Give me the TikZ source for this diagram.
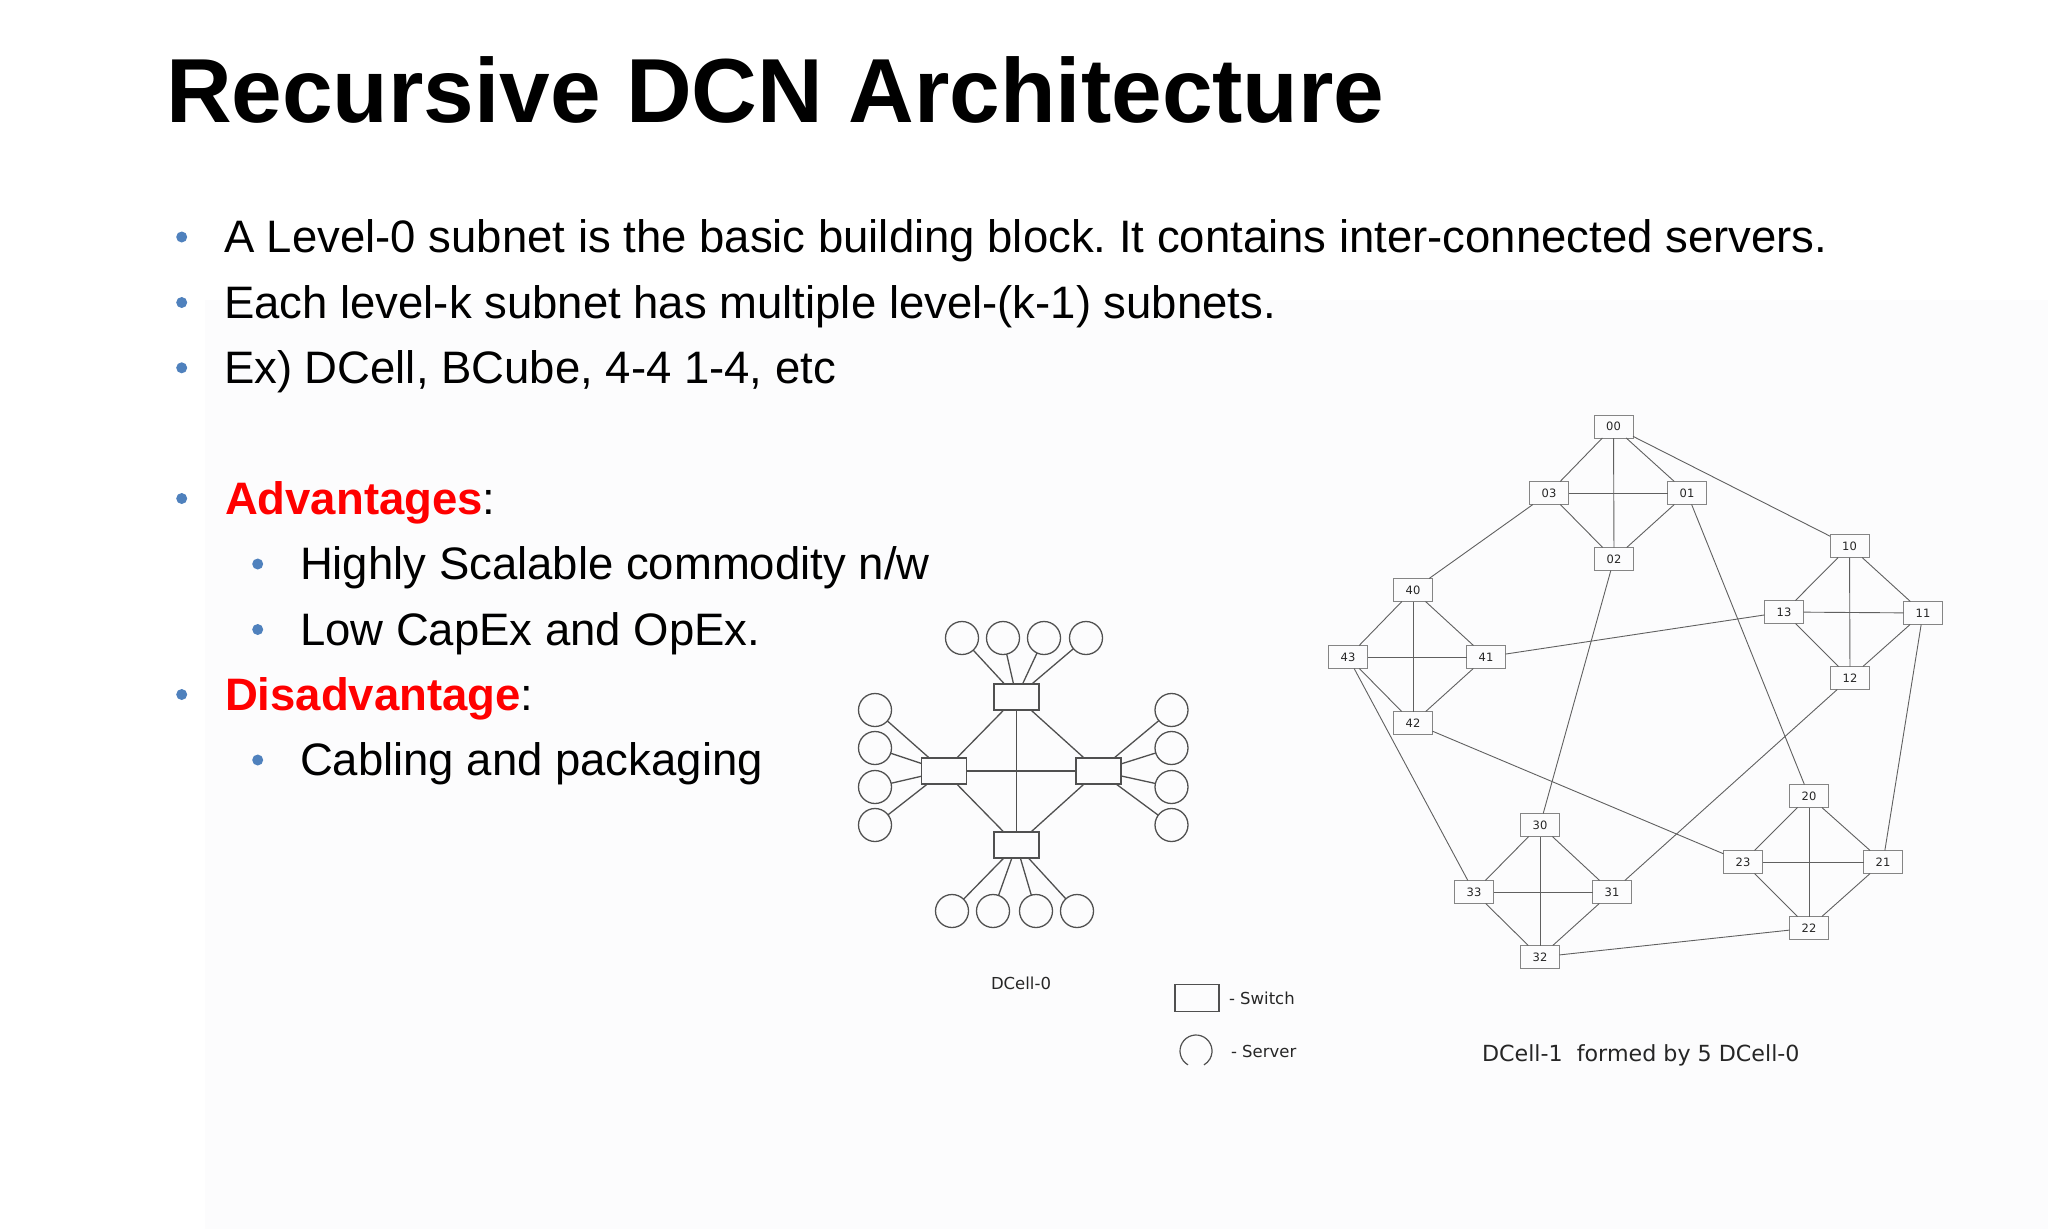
\documentclass[tikz,border=0pt]{standalone}
\usepackage{fontspec}
\setmainfont{Liberation Sans}
\newfontfamily\djv{DejaVu Sans}
\definecolor{bul}{HTML}{4F81BD}
\definecolor{netA}{HTML}{505050}
\definecolor{netB}{HTML}{606060}
\definecolor{boxB}{HTML}{858585}
\definecolor{bgshade}{RGB}{252,252,253}
\frenchspacing
\begin{document}
\begin{tikzpicture}[x=1pt,y=-1pt,
  every node/.style={inner sep=0pt, outer sep=0pt},
  bigsw/.style={draw=netA, line width=1.3pt, minimum width=45pt, minimum height=26pt},
  srv/.style={circle, draw=netA, line width=1.3pt, minimum size=33pt},
  linkA/.style={draw=netA, line width=1.3pt},
  sw/.style={draw=boxB, line width=1pt, minimum width=39pt, minimum height=23pt,
    font=\djv\fontsize{11.5}{12}\selectfont, text=black!85},
  linkB/.style={draw=netB, line width=0.9pt},
  txt/.style={anchor=base west, font=\fontsize{45.5}{50}\selectfont},
  dot/.style={circle, fill=bul, minimum size=11pt},
  small/.style={anchor=base west, font=\djv\fontsize{16.5}{18}\selectfont, text=black!85},
]
\fill[white] (0,0) rectangle (2048,1229);
\fill[bgshade] (205,300) rectangle (2048,1229);
\useasboundingbox (0,0) rectangle (2048,1229);

% title
\node[anchor=base west, font=\bfseries\fontsize{91}{100}\selectfont] (title) at (166,122.3) {Recursive DCN Architecture};

% bullets
\node[txt] (b1) at (224,252.7) {A Level-0 subnet is the basic building block. It contains inter-connected servers.};
\node[txt] (b2) at (224,318) {Each level-k subnet has multiple level-(k-1) subnets.};
\node[txt] (b3) at (224,383.3) {Ex) DCell, BCube, 4-4 1-4, etc};
\node[txt] (b4) at (225,514) {{\color{red}\bfseries Advantages}:};
\node[txt] (b5) at (300,579.3) {Highly Scalable commodity n/w};
\node[txt] (b6) at (300,645) {Low CapEx and OpEx.};
\node[txt] (b7) at (225,710) {{\color{red}\bfseries Disadvantage}:};
\node[txt] (b8) at (300,775.3) {Cabling and packaging};

\node[dot] (d1) at (181.7,237) {};
\node[dot] (d2) at (181.7,302.5) {};
\node[dot] (d3) at (181.7,367.8) {};
\node[dot] (d4) at (181.7,498.5) {};
\node[dot] (d5) at (257.7,564) {};
\node[dot] (d6) at (257.7,629.5) {};
\node[dot] (d7) at (181.7,694.5) {};
\node[dot] (d8) at (257.7,760) {};

% DCell-0
\node[bigsw] (T) at (1016.5,697) {};
\node[bigsw] (L) at (944,771) {};
\node[bigsw] (R) at (1098.5,771) {};
\node[bigsw] (B) at (1016.5,845) {};
\foreach \a/\b in {T/L,T/R,B/L,B/R,T/B,L/R} \draw[linkA] (\a) -- (\b);

\foreach \i/\x in {1/962,2/1003,3/1044,4/1086} {
  \node[srv] (st\i) at (\x,638) {};
  \draw[linkA] (st\i) -- (T);
}
\foreach \i/\x in {1/952,2/993,3/1036,4/1077} {
  \node[srv] (sb\i) at (\x,911) {};
  \draw[linkA] (sb\i) -- (B);
}
\foreach \i/\y in {1/710,2/748,3/787,4/825} {
  \node[srv] (sl\i) at (875,\y) {};
  \draw[linkA] (sl\i) -- (L);
  \node[srv] (sr\i) at (1171.5,\y) {};
  \draw[linkA] (sr\i) -- (R);
}
\node[anchor=base, font=\djv\fontsize{16.5}{18}\selectfont, text=black!85] (lab0) at (1021,989) {DCell-0};

% legend
\node[draw=netA, line width=1.2pt, minimum width=44pt, minimum height=27pt] (lsw) at (1197,998) {};
\node[small] (lswt) at (1229,1004) {- Switch};
\coordinate (lsrv) at (1196,1051);
\draw[netA, line width=1.2pt] ([shift={(120:16)}]lsrv) arc[start angle=120, end angle=420, radius=16];
\node[small] (lsrvt) at (1231,1057) {- Server};

% DCell-1
\foreach \n/\x/\y in {00/1613.5/426.5, 01/1687/493, 02/1614/559, 03/1549/493,
                      10/1849.5/546, 11/1923/613, 12/1850/678, 13/1784/612,
                      20/1809/796, 21/1883/862, 22/1809/928, 23/1743/862,
                      30/1540/825, 31/1612/892, 32/1540/957, 33/1474/892,
                      40/1413/590, 41/1486/657, 42/1413/723, 43/1348/657}
  \node[sw] (n\n) at (\x,\y) {\n};
\foreach \c in {0,1,2,3,4} {
  \foreach \a/\b in {0/1,1/2,2/3,3/0,0/2,1/3}
    \draw[linkB] (n\c\a) -- (n\c\b);
}
\foreach \a/\b in {00/10,01/20,02/30,03/40,11/21,12/31,13/41,22/32,23/42,33/43}
  \draw[linkB] (n\a) -- (n\b);

\node[anchor=base west, font=\djv\fontsize{22.2}{24}\selectfont, text=black!85] (lab1) at (1482,1061) {DCell-1~~formed by 5 DCell-0};
\end{tikzpicture}
\end{document}
